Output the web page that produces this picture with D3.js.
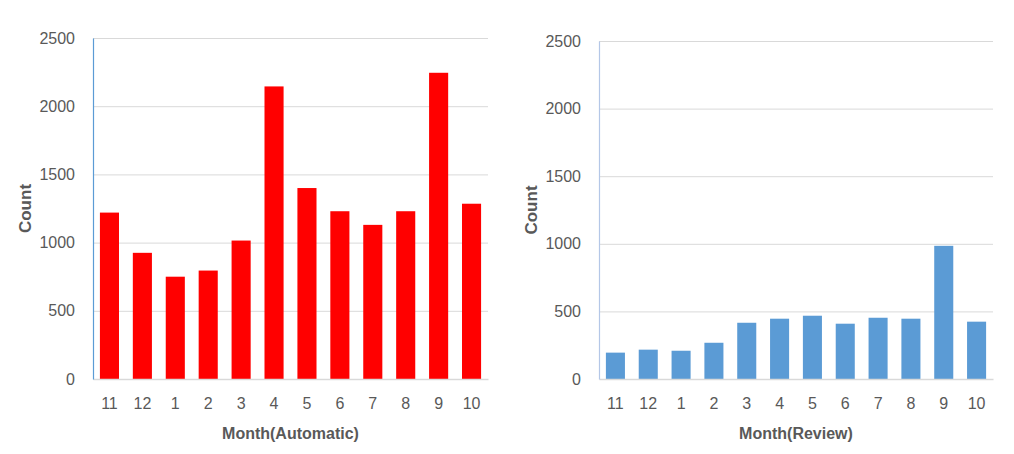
<!DOCTYPE html>
<html><head><meta charset="utf-8">
<script src="https://cdn.jsdelivr.net/npm/d3@7/dist/d3.min.js"></script>
<style>body{margin:0;background:#fff;}svg{display:block;}</style>
</head><body>
<svg id="c" width="1014" height="454"></svg>
<script>
const months = ["11","12","1","2","3","4","5","6","7","8","9","10"];
const automaticCounts = [1220,925,750,795,1015,2145,1400,1230,1130,1230,2245,1285];
const reviewCounts = [195,217,209,268,416,446,468,409,453,446,985,424];
const yTicks = [0,500,1000,1500,2000,2500];

const svg = d3.select("#c");
const FONT = "'Liberation Sans',Arial,sans-serif";

function drawChart(cfg){
  const g = svg.append("g");
  const x = d3.scaleBand().domain(months).range([cfg.left, cfg.right]).paddingInner(0.42).paddingOuter(0.21);
  const y = d3.scaleLinear().domain([0,2500]).range([cfg.bottom, cfg.top]);

  g.append("g").selectAll("line").data(yTicks.filter(d=>d>0)).join("line")
    .attr("x1", cfg.left).attr("x2", cfg.right)
    .attr("y1", d=>y(d)+0.5).attr("y2", d=>y(d)+0.5)
    .attr("stroke", "#D9D9D9").attr("stroke-width", 1);

  g.append("g").selectAll("rect").data(cfg.values).join("rect")
    .attr("x", (d,i)=>x(months[i]))
    .attr("width", x.bandwidth())
    .attr("y", d=>y(d))
    .attr("height", d=>cfg.bottom - y(d))
    .attr("fill", cfg.color);

  const ya = d3.axisLeft(y).tickValues(yTicks).tickSize(0).tickPadding(18).tickFormat(d3.format("d"));
  const yg = g.append("g").attr("transform", `translate(${cfg.left},0)`).call(ya);
  yg.select(".domain").attr("stroke", cfg.vaxis).attr("stroke-width", 1.2);
  yg.selectAll("text").attr("font-family", FONT).attr("font-size", 16).attr("fill", "#595959");

  const xa = d3.axisBottom(x).tickSize(0).tickPadding(19);
  const xg = g.append("g").attr("transform", `translate(0,${cfg.bottom})`).call(xa);
  xg.select(".domain").attr("stroke", "#D9D9D9").attr("stroke-width", 1.5);
  xg.selectAll("text").attr("font-family", FONT).attr("font-size", 16).attr("fill", "#595959");
  xg.raise();
  yg.raise();

  g.append("text").attr("x", (cfg.left+cfg.right)/2).attr("y", 439)
    .attr("text-anchor", "middle").attr("font-family", FONT).attr("font-weight", "bold")
    .attr("font-size", 16).attr("fill", "#595959").text(cfg.xTitle);
  g.append("text").attr("transform", `translate(${cfg.left-62},${(cfg.top+cfg.bottom)/2}) rotate(-90)`)
    .attr("text-anchor", "middle").attr("font-family", FONT).attr("font-weight", "bold")
    .attr("font-size", 17).attr("fill", "#595959").text("Count");
}

drawChart({left:93, right:488, top:38, bottom:379, values:automaticCounts, color:"#FF0000", vaxis:"#5B9BD5", xTitle:"Month(Automatic)"});
drawChart({left:599, right:993, top:41, bottom:379, values:reviewCounts, color:"#5B9BD5", vaxis:"#B4C7E7", xTitle:"Month(Review)"});
</script>
</body></html>
